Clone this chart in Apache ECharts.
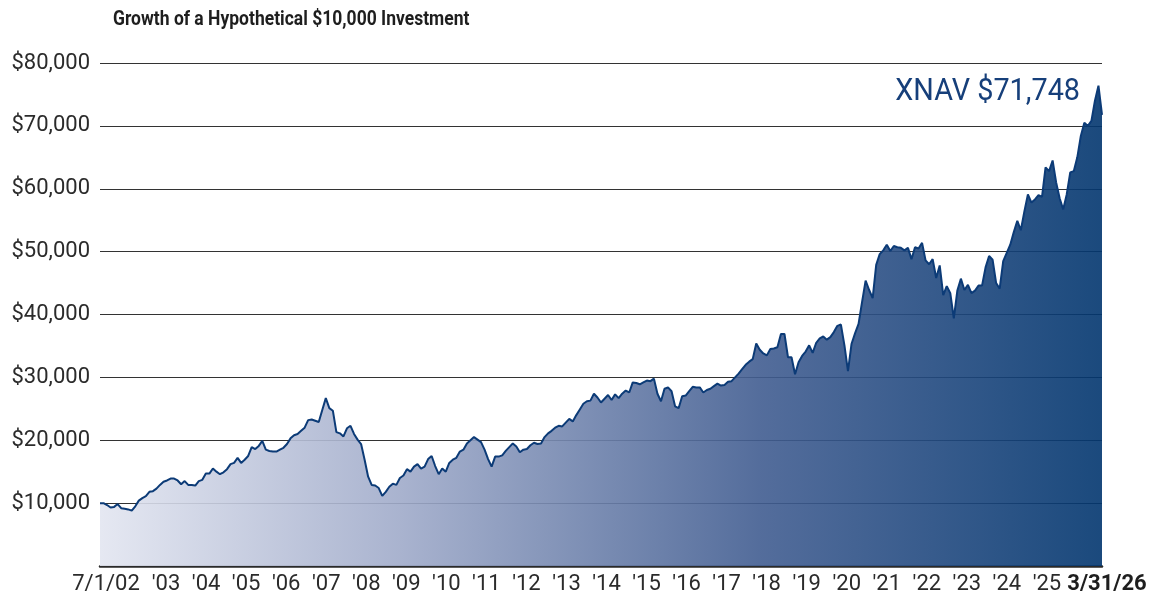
<!DOCTYPE html>
<html>
<head>
<meta charset="utf-8">
<script src="https://cdn.jsdelivr.net/npm/echarts@6/dist/echarts.min.js"></script>
<style>
  html, body { margin: 0; padding: 0; background: #fff; }
  #chart { width: 1150px; height: 598px; }
</style>
</head>
<body>
<div id="chart"></div>
<script>
// growth of $10,000, month-end values (Jul 2002 .. Mar 2026)
const v2002 = [10000, 10000, 9700, 9300, 9400, 9850]
const v2003 = [9200, 9100, 9000, 8800, 9500, 10400, 10800, 11100, 11800, 11900, 12300, 12900]
const v2004 = [13400, 13600, 13900, 13900, 13600, 13000, 13500, 12900, 12900, 12800, 13500, 13700]
const v2005 = [14700, 14700, 15500, 15000, 14600, 14900, 15400, 16200, 16400, 17200, 16400, 16900]
const v2006 = [17500, 18900, 18600, 19100, 19900, 18500, 18300, 18200, 18200, 18500, 18800, 19400]
const v2007 = [20300, 20800, 21000, 21500, 22000, 23200, 23300, 23100, 22900, 24800, 26700, 25100]
const v2008 = [24700, 21300, 21100, 20600, 21900, 22300, 21000, 20100, 19400, 16900, 14200, 12900]
const v2009 = [12800, 12400, 11150, 11800, 12600, 13100, 12900, 14000, 14400, 15400, 15000, 15800]
const v2010 = [16200, 15500, 15800, 17000, 17500, 15900, 14600, 15500, 15000, 16400, 16900, 17200]
const v2011 = [18200, 18500, 19500, 20000, 20500, 20100, 19700, 18500, 17000, 15800, 17400, 17400]
const v2012 = [17600, 18300, 18900, 19500, 19000, 18100, 18500, 18600, 19200, 19600, 19400, 19500]
const v2013 = [20500, 21100, 21500, 22000, 22300, 22200, 22800, 23400, 23000, 24000, 24900, 25800]
const v2014 = [26200, 26300, 27400, 26800, 26000, 26600, 27200, 26400, 27300, 26700, 27400, 27900]
const v2015 = [27600, 29200, 29100, 28900, 29200, 29500, 29400, 29800, 27400, 26200, 28200, 28400]
const v2016 = [27800, 25400, 25100, 27000, 27100, 27800, 28500, 28400, 28400, 27600, 28000, 28200]
const v2017 = [28600, 29000, 28700, 28800, 29300, 29400, 30000, 30600, 31300, 32000, 32500, 32900]
const v2018 = [35400, 34400, 33800, 33500, 34500, 34600, 34800, 36900, 36900, 33200, 33200, 30500]
const v2019 = [32400, 33400, 34100, 35100, 33900, 35500, 36200, 36500, 36000, 36400, 37200, 38200]
const v2020 = [38400, 35100, 31000, 35300, 37000, 38500, 42000, 45400, 43900, 42600, 47900, 49600]
const v2021 = [50200, 51100, 50100, 50900, 50700, 50600, 50200, 50600, 48800, 50700, 50500, 51400]
const v2022 = [48600, 48000, 48800, 45800, 47800, 43100, 44500, 43400, 39400, 43800, 45700, 43900]
const v2023 = [44700, 43400, 43800, 44600, 44600, 47500, 49300, 48700, 45000, 44100, 48500, 49800]
const v2024 = [51100, 53100, 54900, 53400, 56400, 59100, 57800, 58300, 59000, 58700, 63400, 62800]
const v2025 = [64500, 61000, 58500, 56700, 59100, 62600, 62800, 65000, 68400, 70500, 70000, 70800]
const v2026 = [74000, 76400, 71748]

const values = [].concat(v2002, v2003, v2004, v2005, v2006, v2007, v2008, v2009, v2010,
  v2011, v2012, v2013, v2014, v2015, v2016, v2017, v2018, v2019, v2020, v2021, v2022,
  v2023, v2024, v2025, v2026)

// one category per month, starting Jul 2002
const months = values.map((_, i) => {
  const m = 6 + i
  return (2002 + Math.floor(m / 12)) + '-' + String(m % 12 + 1).padStart(2, '0')
})

// bottom tick labels and where they sit (in label slots, evenly spaced in the middle)
const tickLabels = ['7/1/02', "'03", "'04", "'05", "'06", "'07", "'08", "'09", "'10", "'11", "'12",
  "'13", "'14", "'15", "'16", "'17", "'18", "'19", "'20", "'21", "'22", "'23", "'24", "'25", '3/31/26']
const tickSlots = [0, 1.5, 2.5, 3.5, 4.5, 5.5, 6.5, 7.5, 8.5, 9.5, 10.5, 11.5, 12.5,
  13.5, 14.5, 15.5, 16.5, 17.5, 18.5, 19.5, 20.5, 21.5, 22.5, 23.5, 25]

const chartTitle = 'Growth of a Hypothetical $10,000 Investment'
const fundName = 'XNAV'
const endValue = values[values.length - 1]

const chart = echarts.init(document.getElementById('chart'))
chart.setOption({
  animation: false,
  // condensed look: plain Roboto squeezed horizontally
  graphic: [{
    type: 'text',
    x: 113,
    y: 20,
    scaleX: 0.875,
    style: {
      x: 0, y: 0,
      text: chartTitle,
      fontFamily: 'Roboto',
      fontWeight: 'bold',
      fontSize: 20,
      fill: '#1e1e1e',
      align: 'left',
      verticalAlign: 'middle'
    }
  }, {
    type: 'text',
    x: 1080,
    y: 92,
    scaleX: 0.9,
    style: {
      x: 0, y: 0,
      text: fundName + ' $' + endValue.toLocaleString('en-US'),
      fontFamily: 'Roboto',
      fontSize: 32,
      fill: '#163f7a',
      align: 'right',
      verticalAlign: 'middle'
    }
  }],
  grid: [
    { left: 100, right: 48, top: 63, bottom: 32 },
    { left: 106, right: 43, top: 63, bottom: 32 }
  ],
  xAxis: [{
    type: 'category',
    gridIndex: 0,
    data: months,
    boundaryGap: false,
    axisLine: { show: true, lineStyle: { color: '#2a2a2a', width: 2.5 } },
    axisTick: { show: false },
    axisLabel: { show: false },
    splitLine: { show: false }
  }, {
    type: 'value',
    gridIndex: 1,
    min: 0,
    max: 25,
    axisLine: { show: false },
    axisTick: { show: false },
    splitLine: { show: false },
    axisLabel: {
      customValues: tickSlots,
      margin: 7,
      fontFamily: 'Roboto',
      fontSize: 22,
      color: '#2b2b2b',
      formatter: function (v) {
        const k = tickSlots.indexOf(v)
        if (k < 0) return ''
        return k === tickLabels.length - 1 ? '{b|' + tickLabels[k] + '}' : tickLabels[k]
      },
      rich: {
        b: { fontFamily: 'Roboto', fontSize: 22, fontWeight: 'bold', color: '#1e1e1e' }
      }
    }
  }],
  yAxis: [{
    type: 'value',
    gridIndex: 0,
    min: 0,
    max: 80000,
    interval: 10000,
    axisLine: { show: false },
    axisTick: { show: false },
    splitLine: { lineStyle: { color: '#333', width: 1 } },
    axisLabel: {
      margin: 10,
      fontFamily: 'Roboto',
      fontSize: 22,
      color: '#2b2b2b',
      formatter: v => v === 0 ? '' : '$' + v.toLocaleString('en-US')
    }
  }, {
    type: 'value',
    gridIndex: 1,
    show: false
  }],
  series: [{
    type: 'line',
    xAxisIndex: 0,
    yAxisIndex: 0,
    data: values,
    showSymbol: false,
    smooth: false,
    lineStyle: { color: '#0c3b77', width: 2 },
    areaStyle: {
      opacity: 0.9,
      color: new echarts.graphic.LinearGradient(0, 0, 1, 0, [
        { offset: 0, color: '#e3e6f1' },
        { offset: 0.3, color: '#a0abca' },
        { offset: 0.66, color: '#415d91' },
        { offset: 1, color: '#02366f' }
      ])
    }
  }]
})
</script>
</body>
</html>
